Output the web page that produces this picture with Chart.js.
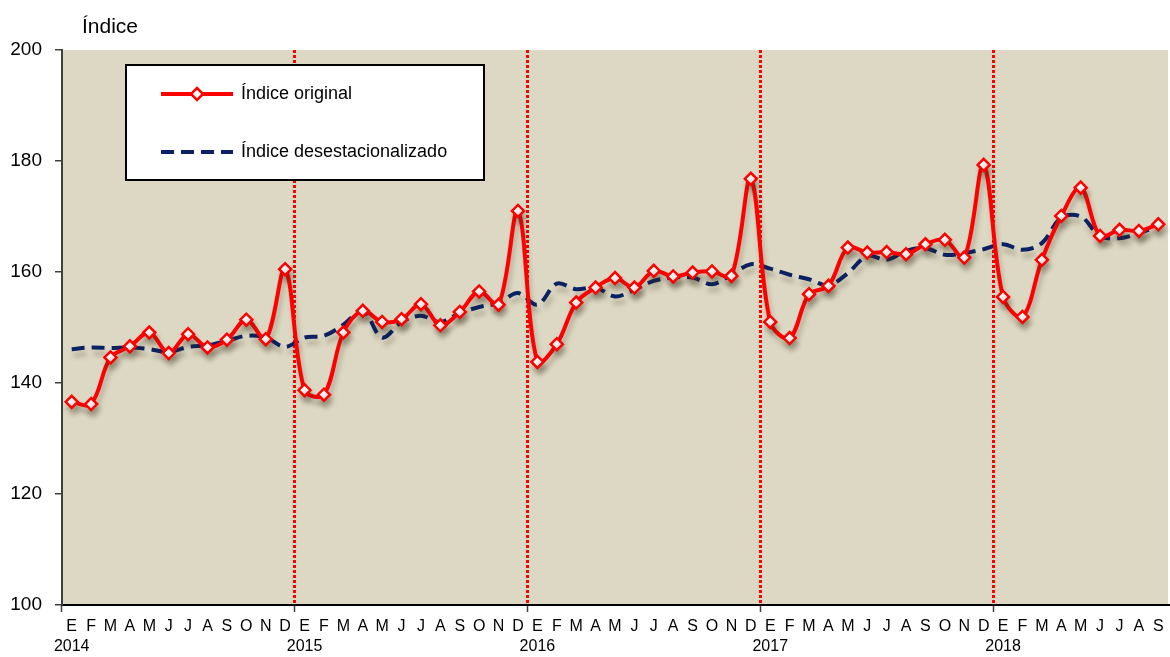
<!DOCTYPE html>
<html>
<head>
<meta charset="utf-8">
<script src="https://cdn.jsdelivr.net/npm/chart.js@4.4.0/dist/chart.umd.min.js"></script>
<style>
    html, body { margin: 0; padding: 0; background: #ffffff; }
    #chart { display: block; }
</style>
</head>
<body>
<canvas id="chart" width="1170" height="657"></canvas>
<script>
// --- Data ---
const monthLetters = ['E', 'F', 'M', 'A', 'M', 'J', 'J', 'A', 'S', 'O', 'N', 'D'];
const years = ['2014', '2015', '2016', '2017', '2018'];
const monthCount = 57; // Jan 2014 .. Sep 2018

const indiceOriginal = [
    136.6, 136.2, 144.6, 146.6, 149.1, 145.4, 148.8, 146.4, 147.8, 151.4, 147.9, 160.5,
    138.7, 137.9, 149.1, 153.0, 151.0, 151.5, 154.2, 150.4, 152.8, 156.5, 154.1, 171.0,
    143.8, 147.0, 154.5, 157.2, 158.9, 157.2, 160.2, 159.2, 159.9, 160.1, 159.3, 176.8,
    151.0, 148.1, 156.0, 157.5, 164.4, 163.5, 163.6, 163.2, 165.0, 165.8, 162.6, 179.3,
    155.5, 151.9, 162.2, 170.1, 175.2, 166.5, 167.6, 167.4, 168.6
];

const indiceDesest = [
    146.1, 146.4, 146.3, 146.4, 146.1, 145.6, 146.5, 146.8, 147.6, 148.5, 148.2, 146.5,
    148.2, 148.5, 150.5, 153.0, 148.2, 151.0, 152.1, 151.0, 152.6, 153.7, 154.4, 156.2,
    154.1, 157.9, 156.9, 157.2, 155.6, 156.8, 158.4, 159.0, 159.0, 157.8, 159.5, 161.4,
    160.6, 159.5, 158.7, 157.6, 159.8, 162.9, 162.2, 163.8, 164.3, 163.1, 163.4, 164.1,
    165.0, 164.0, 165.2, 169.8, 170.0, 166.5, 166.1, 167.0, 168.3
];

const yTicks = [100, 120, 140, 160, 180, 200];

// category labels: [month letter, year under January]
const labels = [];
for (let i = 0; i < monthCount; i++) {
    labels.push([monthLetters[i % 12], i % 12 === 0 ? years[i / 12] : '']);
}

const FONT = '"Liberation Sans", Arial, sans-serif';
const RED = '#ff0000';
const NAVY = '#0a2263';

// --- Plugins ---
const plotBackground = {
    id: 'plotBackground',
    beforeDraw(chart) {
        const { ctx, chartArea: a } = chart;
        ctx.save();
        ctx.fillStyle = '#ddd8c3';
        ctx.fillRect(a.left, a.top, a.right - a.left, a.bottom - a.top);
        ctx.restore();
    }
};

const lineShadow = {
    id: 'lineShadow',
    beforeDatasetDraw(chart) {
        const ctx = chart.ctx;
        ctx.save();
        ctx.shadowColor = 'rgba(60, 50, 30, 0.28)';
        ctx.shadowBlur = 5;
        ctx.shadowOffsetX = 2;
        ctx.shadowOffsetY = 6;
    },
    afterDatasetDraw(chart) {
        chart.ctx.restore();
    }
};

const titleAndLegend = {
    id: 'titleAndLegend',
    afterDraw(chart) {
        const ctx = chart.ctx;
        const ds = chart.data.datasets;
        ctx.save();

        // axis title
        ctx.fillStyle = '#000';
        ctx.font = '21px ' + FONT;
        ctx.textBaseline = 'alphabetic';
        ctx.textAlign = 'left';
        ctx.fillText('Índice', 82, 33);

        // legend box
        ctx.fillStyle = '#ffffff';
        ctx.fillRect(126, 65, 358, 115);
        ctx.strokeStyle = '#000';
        ctx.lineWidth = 2;
        ctx.strokeRect(126, 65, 358, 115);

        // item 1: original
        ctx.strokeStyle = ds[0].borderColor;
        ctx.lineWidth = 4;
        ctx.beginPath();
        ctx.moveTo(161, 94);
        ctx.lineTo(233, 94);
        ctx.stroke();
        ctx.beginPath();
        ctx.moveTo(197, 88);
        ctx.lineTo(203, 94);
        ctx.lineTo(197, 100);
        ctx.lineTo(191, 94);
        ctx.closePath();
        ctx.fillStyle = '#fff';
        ctx.fill();
        ctx.lineWidth = 2.5;
        ctx.stroke();

        // item 2: desestacionalizado
        ctx.strokeStyle = ds[1].borderColor;
        ctx.lineWidth = 4;
        ctx.setLineDash(ds[1].borderDash);
        ctx.beginPath();
        ctx.moveTo(161, 152);
        ctx.lineTo(233, 152);
        ctx.stroke();
        ctx.setLineDash([]);

        ctx.fillStyle = '#000';
        ctx.font = '18px ' + FONT;
        ctx.textBaseline = 'middle';
        ctx.fillText(ds[0].label, 241, 94);
        ctx.fillText(ds[1].label, 241, 152);
        ctx.restore();
    }
};

// --- Chart ---
const ctx = document.getElementById('chart').getContext('2d');
new Chart(ctx, {
    type: 'line',
    data: {
        labels: labels,
        datasets: [{
            label: 'Índice original',
            data: indiceOriginal,
            borderColor: RED,
            borderWidth: 4,
            tension: 0.35,
            pointStyle: 'rectRot',
            pointRadius: 6,
            pointBorderWidth: 2.5,
            pointBackgroundColor: '#ffffff',
            pointBorderColor: RED,
            fill: false
        }, {
            label: 'Índice desestacionalizado',
            data: indiceDesest,
            borderColor: NAVY,
            borderWidth: 4,
            borderDash: [13, 7],
            tension: 0.35,
            pointRadius: 0,
            fill: false
        }]
    },
    options: {
        responsive: false,
        animation: false,
        layout: { autoPadding: false, padding: { top: 50, right: 2, left: 0, bottom: 0 } },
        plugins: {
            legend: { display: false },
            tooltip: { enabled: false }
        },
        scales: {
            x: {
                type: 'category',
                offset: true,
                grid: {
                    offset: true,
                    drawOnChartArea: true,
                    drawTicks: true,
                    tickLength: 7,
                    lineWidth: 3,
                    tickWidth: 1.5,
                    color: (c) => (c.index % 12 === 0 && c.index > 0 && c.index < monthCount) ? RED : 'rgba(0,0,0,0)',
                    tickColor: (c) => (c.index % 12 === 0 && c.index < monthCount) ? '#404040' : 'rgba(0,0,0,0)'
                },
                border: { display: true, color: '#000', width: 2, dash: [3, 2] },
                ticks: {
                    color: '#000',
                    font: { family: FONT, size: 16, lineHeight: 1.25 },
                    padding: 5,
                    maxRotation: 0,
                    autoSkip: false
                },
                afterFit: (s) => {
                    s.height = 52;
                    s.paddingLeft = 0;
                    s.paddingRight = 0;
                }
            },
            y: {
                min: 100,
                max: 200,
                afterBuildTicks: (s) => { s.ticks = yTicks.map(v => ({ value: v })); },
                grid: {
                    drawOnChartArea: false,
                    drawTicks: true,
                    tickLength: 7,
                    color: '#404040',
                    lineWidth: 1.5
                },
                border: { display: true, color: '#404040', width: 2 },
                ticks: {
                    color: '#000',
                    font: { family: FONT, size: 19 },
                    padding: 13
                },
                afterFit: (s) => { s.width = 62; }
            }
        }
    },
    plugins: [plotBackground, lineShadow, titleAndLegend]
});
</script>
</body>
</html>
